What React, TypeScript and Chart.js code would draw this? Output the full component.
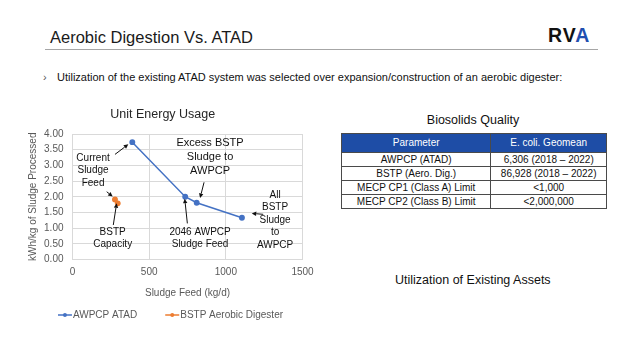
import React, { useEffect, useRef } from "react";
import { Chart, registerables } from "chart.js";

Chart.register(...registerables);

// ---- data ----
const atadFeed = [390, 735, 810, 1105];
const atadEnergy = [3.74, 2.0, 1.81, 1.33];
const bstpFeed = [277, 295];
const bstpEnergy = [1.91, 1.79];
const seriesNames = ["AWPCP ATAD", "BSTP Aerobic Digester"];
const seriesColors = ["#4472C4", "#ED7D31"];
const xTickValues = [0, 500, 1000, 1500];
const yTickValues = [0, 0.5, 1, 1.5, 2, 2.5, 3, 3.5, 4];

const noteTexts = [
  ["Current", "Sludge", "Feed"],
  ["BSTP", "Capacity"],
  ["Excess BSTP", "Sludge to", "AWPCP"],
  ["2046 AWPCP", "Sludge Feed"],
  ["All", "BSTP", "Sludge", "to", "AWPCP"],
];
const noteX = [134, 262, 897, 832, 1321];
const noteY = [3.24, 0.88, 3.72, 0.88, 2.06];
const noteSize = [10, 10, 11, 10, 10];

const arrowFromX = [277, 223, 266, 858, 749, 1244];
const arrowFromY = [3.35, 2.16, 1.1, 2.46, 1.15, 1.44];
const arrowToX = [364, 262, 288, 832, 732, 1169];
const arrowToY = [3.67, 2.01, 1.79, 1.96, 1.94, 1.47];

const tableHeader = ["Parameter", "E. coli. Geomean"];
const tableCol1 = [
  "AWPCP (ATAD)",
  "BSTP (Aero. Dig.)",
  "MECP CP1 (Class A) Limit",
  "MECP CP2 (Class B) Limit",
];
const tableCol2 = [
  "6,306 (2018 \u2013 2022)",
  "86,928 (2018 \u2013 2022)",
  "<1,000",
  "<2,000,000",
];

const FONT = "'Liberation Sans', Arial, sans-serif";

const overlayPlugin = {
  id: "overlay",
  afterDatasetsDraw(chart: any) {
    const ctx = chart.ctx;
    const xs = chart.scales.x;
    const ys = chart.scales.y;
    ctx.save();
    ctx.fillStyle = "#111";
    ctx.textAlign = "center";
    ctx.textBaseline = "middle";
    noteTexts.forEach((lines, i) => {
      const size = noteSize[i];
      const lh = size === 11 ? 14 : 12.5;
      ctx.font = `${size}px ${FONT}`;
      const px = xs.getPixelForValue(noteX[i]);
      const py = ys.getPixelForValue(noteY[i]);
      lines.forEach((t, j) => ctx.fillText(t, px, py + j * lh));
    });
    ctx.strokeStyle = "#111";
    ctx.lineWidth = 1;
    arrowFromX.forEach((_, i) => {
      const x1 = xs.getPixelForValue(arrowFromX[i]);
      const y1 = ys.getPixelForValue(arrowFromY[i]);
      const x2 = xs.getPixelForValue(arrowToX[i]);
      const y2 = ys.getPixelForValue(arrowToY[i]);
      const ang = Math.atan2(y2 - y1, x2 - x1);
      const L = 4.5;
      const W = 2.2;
      const bx = x2 - L * Math.cos(ang);
      const by = y2 - L * Math.sin(ang);
      ctx.beginPath();
      ctx.moveTo(x1, y1);
      ctx.lineTo(bx, by);
      ctx.stroke();
      ctx.beginPath();
      ctx.moveTo(x2, y2);
      ctx.lineTo(bx + W * Math.sin(ang), by - W * Math.cos(ang));
      ctx.lineTo(bx - W * Math.sin(ang), by + W * Math.cos(ang));
      ctx.closePath();
      ctx.fillStyle = "#111";
      ctx.fill();
    });
    ctx.restore();
  },
  afterDraw(chart: any) {
    const ctx = chart.ctx;
    ctx.save();
    ctx.font = `10px ${FONT}`;
    ctx.textBaseline = "middle";
    ctx.textAlign = "left";
    const markerW = 14;
    const gapText = 1;
    const itemGap = 28;
    const ds = chart.data.datasets;
    const widths = ds.map((d: any) => markerW + gapText + ctx.measureText(d.label).width);
    const total = widths.reduce((a: number, b: number) => a + b, 0) + itemGap * (ds.length - 1);
    let x = 170.5 - total / 2;
    const y = 220;
    ds.forEach((d: any, i: number) => {
      ctx.strokeStyle = d.borderColor;
      ctx.lineWidth = 1.5;
      ctx.beginPath();
      ctx.moveTo(x, y);
      ctx.lineTo(x + markerW, y);
      ctx.stroke();
      ctx.fillStyle = d.borderColor;
      ctx.beginPath();
      ctx.arc(x + markerW / 2, y, 2, 0, Math.PI * 2);
      ctx.fill();
      ctx.fillStyle = "#595959";
      ctx.fillText(d.label, x + markerW + gapText, y);
      x += widths[i] + itemGap;
    });
    ctx.restore();
  },
};

function EnergyChart() {
  const ref = useRef<HTMLCanvasElement | null>(null);
  useEffect(() => {
    if (!ref.current) return;
    const chart = new Chart(ref.current, {
      type: "scatter",
      data: {
        datasets: [
          {
            label: seriesNames[0],
            data: atadFeed.map((x, i) => ({ x, y: atadEnergy[i] })),
            borderColor: seriesColors[0],
            backgroundColor: seriesColors[0],
            showLine: true,
            borderWidth: 1.5,
            pointRadius: 2.2,
          },
          {
            label: seriesNames[1],
            data: bstpFeed.map((x, i) => ({ x, y: bstpEnergy[i] })),
            borderColor: seriesColors[1],
            backgroundColor: seriesColors[1],
            showLine: true,
            borderWidth: 1.5,
            pointRadius: 2.2,
          },
        ],
      },
      options: {
        animation: false,
        responsive: false,
        devicePixelRatio: 1,
        layout: { padding: { left: 23, right: 27.5, top: 0, bottom: 31.5 } },
        plugins: {
          legend: { display: false },
          tooltip: { enabled: false },
          title: {
            display: true,
            text: "Unit Energy Usage",
            color: "#262626",
            font: { family: FONT, size: 12.5, weight: "normal" },
            padding: { top: 12.5, bottom: 11.5 },
          },
        },
        scales: {
          x: {
            type: "linear",
            min: xTickValues[0],
            max: xTickValues[xTickValues.length - 1],
            afterBuildTicks: (s: any) => {
              s.ticks = xTickValues.map((v) => ({ value: v }));
            },
            ticks: {
              color: "#595959",
              font: { family: FONT, size: 10 },
              padding: 7,
              callback: (v: any) => String(v),
            },
            grid: { color: "#d9d9d9", drawTicks: false },
            border: { color: "#d9d9d9" },
            title: {
              display: true,
              text: "Sludge Feed (kg/d)",
              color: "#595959",
              font: { family: FONT, size: 10 },
              padding: { top: 2, bottom: 4 },
            },
          },
          y: {
            type: "linear",
            min: yTickValues[0],
            max: yTickValues[yTickValues.length - 1],
            afterBuildTicks: (s: any) => {
              s.ticks = yTickValues.map((v) => ({ value: v }));
            },
            afterFit: (s: any) => {
              s.width = 49.5;
            },
            ticks: {
              color: "#595959",
              font: { family: FONT, size: 10 },
              padding: 9,
              callback: (v: any) => Number(v).toFixed(2),
            },
            grid: { color: "#d9d9d9", drawTicks: false },
            border: { color: "#d9d9d9" },
            title: {
              display: true,
              text: "kWh/kg of Sludge Processed",
              color: "#595959",
              font: { family: FONT, size: 10 },
              padding: { top: 4, bottom: 4 },
            },
          },
        },
      },
      plugins: [overlayPlugin],
    } as any);
    return () => chart.destroy();
  }, []);
  return (
    <canvas
      ref={ref}
      width={330}
      height={240}
      style={{ position: "absolute", left: 0, top: 95, width: 330, height: 240 }}
    />
  );
}

export default function App() {
  const cell: React.CSSProperties = {
    border: "1px solid #4a4a4a",
    padding: 0,
    textAlign: "center",
    height: 13,
    lineHeight: "13px",
    fontSize: 10,
    color: "#111",
  };
  const head: React.CSSProperties = {
    ...cell,
    background: "#1E4DA6",
    color: "#fff",
    height: 18,
    lineHeight: "18px",
    fontWeight: "normal",
  };
  return (
    <div
      style={{
        position: "absolute",
        left: 0,
        top: 0,
        width: 640,
        height: 360,
        background: "#fff",
        fontFamily: FONT,
        overflow: "hidden",
      }}
    >
      <div
        style={{
          position: "absolute",
          left: 50,
          top: 27.3,
          fontSize: 16.5,
          lineHeight: "20px",
          color: "#1a1a1a",
          whiteSpace: "nowrap",
        }}
      >
        Aerobic Digestion Vs. ATAD
      </div>
      <div
        style={{
          position: "absolute",
          left: 45,
          top: 49,
          width: 553,
          height: 1,
          background: "#a6a6a6",
        }}
      />
      <div
        style={{
          position: "absolute",
          left: 548,
          top: 24.6,
          fontSize: 19.5,
          lineHeight: "20px",
          fontWeight: "bold",
          letterSpacing: 1,
          color: "#111",
          whiteSpace: "nowrap",
        }}
      >
        RV<span style={{ color: "#1F4FB0" }}>A</span>
      </div>
      <div
        style={{
          position: "absolute",
          left: 43,
          top: 71,
          fontSize: 11,
          lineHeight: "13px",
          color: "#555",
        }}
      >
        ›
      </div>
      <div
        style={{
          position: "absolute",
          left: 57,
          top: 71.3,
          fontSize: 11,
          lineHeight: "13px",
          color: "#111",
          whiteSpace: "nowrap",
        }}
      >
        Utilization of the existing ATAD system was selected over expansion/construction of an aerobic digester:
      </div>
      <EnergyChart />
      <div
        style={{
          position: "absolute",
          left: 373,
          width: 200,
          textAlign: "center",
          top: 112.7,
          fontSize: 12.5,
          lineHeight: "15px",
          color: "#111",
        }}
      >
        Biosolids Quality
      </div>
      <table
        style={{
          position: "absolute",
          left: 341,
          top: 132.5,
          width: 266,
          borderCollapse: "collapse",
          border: "1px solid #555",
          fontFamily: FONT,
        }}
      >
        <colgroup>
          <col style={{ width: 150 }} />
          <col style={{ width: 116 }} />
        </colgroup>
        <thead>
          <tr>
            <th style={head}>{tableHeader[0]}</th>
            <th style={head}>{tableHeader[1]}</th>
          </tr>
        </thead>
        <tbody>
          {tableCol1.map((c, i) => (
            <tr key={i}>
              <td style={cell}>{c}</td>
              <td style={cell}>{tableCol2[i]}</td>
            </tr>
          ))}
        </tbody>
      </table>
      <div
        style={{
          position: "absolute",
          left: 395,
          top: 272.7,
          fontSize: 12.5,
          lineHeight: "15px",
          color: "#111",
          whiteSpace: "nowrap",
        }}
      >
        Utilization of Existing Assets
      </div>
    </div>
  );
}
